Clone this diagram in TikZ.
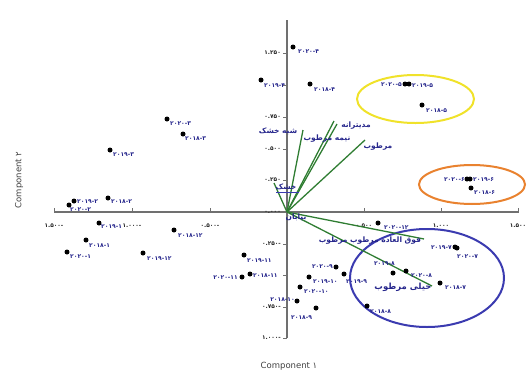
\documentclass[tikz,border=0pt]{standalone}
\usepackage{fontspec}
\setmainfont{DejaVu Sans}
\newfontfamily\fa[Script=Arabic]{DejaVu Sans}
\TeXXeTstate=1
\definecolor{navy}{HTML}{26268C}
\definecolor{vgreen}{HTML}{2F7D32}
\definecolor{axgray}{HTML}{707070}
\definecolor{ellyellow}{HTML}{F0E22A}
\definecolor{ellorange}{HTML}{E9822F}
\definecolor{ellblue}{HTML}{3B3BB0}
\tikzset{
  axisline/.style={draw=axgray, line width=1.3pt},
  tickmark/.style={draw=axgray, line width=0.9pt},
  ticklabel/.style={font=\fa\bfseries\fontsize{5.8}{6.5}\selectfont, text=black!85, inner sep=0pt},
  ptdot/.style={circle, fill=black, inner sep=0pt, minimum size=5pt},
  ptlabel/.style={font=\fa\bfseries\fontsize{6}{7}\selectfont, text=navy, inner sep=0pt},
  vec/.style={draw=vgreen, line width=1.3pt},
  veclabel/.style={font=\fa\bfseries\fontsize{7.5}{9}\selectfont, text=navy, inner sep=0pt},
  elly/.style={line width=2pt}
}
\begin{document}
\begin{tikzpicture}[x=1pt,y=-1pt]
\useasboundingbox (0,0) rectangle (528,370);
% axes
\coordinate (yt) at (287,20); \coordinate (yb) at (287,338);
\coordinate (xl) at (54,212); \coordinate (xr) at (518,212);
\draw[axisline] (yt) -- (yb);
\draw[axisline] (xl) -- (xr);
% y ticks
\foreach \yy/\lab/\nm in {53/۱.۲۵۰/a,85//b,117/۰.۷۵۰/c,149/۰.۵۰۰/d,180/۰.۲۵۰/e,212/۰.۰۰۰/f,244/-۰.۲۵۰/g,275//h,307/-۰.۷۵۰/i,338/-۱.۰۰۰/j}{
  \coordinate (yt\nm) at (283,\yy);
  \coordinate (yu\nm) at (287,\yy);
  \draw[tickmark] (yt\nm) -- (yu\nm);
  \node[ticklabel, anchor=east] (ytl\nm) at (281,\yy) {\lab};
}
% x ticks
\foreach \xx/\lab/\nm in {54/-۱.۵۰۰/a,132/-۱.۰۰۰/b,210/-۰.۵۰۰/c,364/۰.۵۰۰/d,441/۱.۰۰۰/e,518/۱.۵۰۰/f}{
  \coordinate (xt\nm) at (\xx,208);
  \coordinate (xu\nm) at (\xx,213);
  \draw[tickmark] (xt\nm) -- (xu\nm);
  \node[ticklabel] (xtl\nm) at (\xx,226) {\lab};
}
% axis titles
\node[font=\fontsize{8.5}{10}\selectfont, text=black!75] (xtitle) at (289,366) {Component ۱};
\node[font=\fontsize{8.5}{10}\selectfont, text=black!75, rotate=90] (ytitle) at (19,180) {Component ۲};
% ellipses
\draw[elly, draw=ellyellow] (415.5,99) ellipse [x radius=58.5pt, y radius=24pt];
\draw[elly, draw=ellorange] (472,184.5) ellipse [x radius=53pt, y radius=19.5pt];
\draw[elly, draw=ellblue] (427,278) ellipse [x radius=77pt, y radius=49pt];
% vectors
\coordinate (O) at (287,212);
\coordinate (vkhoshk) at (274,183);
\coordinate (vshebh) at (303,130);
\coordinate (vmedit) at (334,121);
\coordinate (vnime) at (337,124);
\coordinate (vmartub) at (365,140);
\coordinate (vfogh) at (424,239);
\coordinate (vkheili) at (432,286);
\foreach \t in {vkhoshk,vshebh,vmedit,vnime,vmartub,vfogh,vkheili}{\draw[vec] (O) -- (\t);}
% vector labels
\node[veclabel] (lmedit) at (356,126) {\beginR مدیترانه\endR};
\node[veclabel] (lnime) at (327,139) {\beginR نیمه مرطوب\endR};
\node[veclabel] (lmartub) at (378,147) {\beginR مرطوب\endR};
\node[veclabel] (lshebh) at (278,131) {\beginR شبه خشک\endR};
\node[veclabel] (lkhoshk) at (286,187) {\beginR خشک\endR};
\coordinate (ulA) at (276,192); \coordinate (ulB) at (299,192);
\draw[draw=ellblue, line width=0.8pt] (ulA) -- (ulB);
\node[veclabel] (lbiaban) at (296,217) {\beginR بیابان\endR};
\node[veclabel] (lfogh) at (370,241) {\beginR فوق العاده مرطوب مرطوب\endR};
\node[veclabel, font=\fa\bfseries\fontsize{8.5}{10}\selectfont] (lkheili) at (403,287) {\beginR خیلی مرطوب\endR};
% points
\foreach \nm/\x/\y in {
 d204/293/47, d194/261/80, d184/310/84, d205/405/84, d195/409/84, d185/422/105,
 d206/467/179, d196/470/179, d186/471/188, d2012/378/223, d197/455/247, d207/457/248,
 d198/393/273, d208/406/271, d187/440/283, d188/367/306, d209/336/267, d199/344/274,
 d1910/309/277, d2010/300/287, d1810/297/301, d189/316/308, d1911/244/255, d2011/242/277,
 d1811/250/274, d1912/143/253, d1812/174/230, d191/99/223, d181/86/240, d201/67/252,
 d192/74/201, d202/69/205, d182/108/198, d193/110/150, d203/167/119, d183/183/134}{
  \node[ptdot] (\nm) at (\x,\y) {};
}
% point labels (west anchored: to the right)
\foreach \nm/\x/\y/\lab in {
 l204/298/52/۲۰۲۰-۴, l194/264/86/۲۰۱۹-۴, l184/314/90/۲۰۱۸-۴, l195/412/86/۲۰۱۹-۵,
 l185/426/111/۲۰۱۸-۵, l196/473/180/۲۰۱۹-۶, l186/474/193/۲۰۱۸-۶, l2012/384/228/۲۰۲۰-۱۲,
 l207/457/257/۲۰۲۰-۷, l208/411/276/۲۰۲۰-۸, l187/445/288/۲۰۱۸-۷, l188/370/312/۲۰۱۸-۸,
 l1910/313/282/۲۰۱۹-۱۰, l199/346/282/۲۰۱۹-۹, l2010/304/292/۲۰۲۰-۱۰, l189/291/318/۲۰۱۸-۹,
 l1911/247/261/۲۰۱۹-۱۱, l1811/253/276/۲۰۱۸-۱۱, l1912/147/259/۲۰۱۹-۱۲, l1812/178/236/۲۰۱۸-۱۲,
 l191/101/227/۲۰۱۹-۱, l181/89/246/۲۰۱۸-۱, l201/70/257/۲۰۲۰-۱, l192/77/202/۲۰۱۹-۲,
 l202/70/210/۲۰۲۰-۲, l182/111/202/۲۰۱۸-۲, l193/113/155/۲۰۱۹-۳, l203/170/124/۲۰۲۰-۳,
 l183/185/139/۲۰۱۸-۳}{
  \node[ptlabel, anchor=west] (\nm) at (\x,\y) {\lab};
}
% point labels (east anchored: to the left)
\foreach \nm/\x/\y/\lab in {
 l205/402/85/۲۰۲۰-۵, l206/465/180/۲۰۲۰-۶, l197/452/248/۲۰۱۹-۷, l198/395/264/۲۰۱۹-۸,
 l209/333/267/۲۰۲۰-۹, l1810/295/300/۲۰۱۸-۱۰, l2011/238/278/۲۰۲۰-۱۱}{
  \node[ptlabel, anchor=east] (\nm) at (\x,\y) {\lab};
}
\end{tikzpicture}
\end{document}
